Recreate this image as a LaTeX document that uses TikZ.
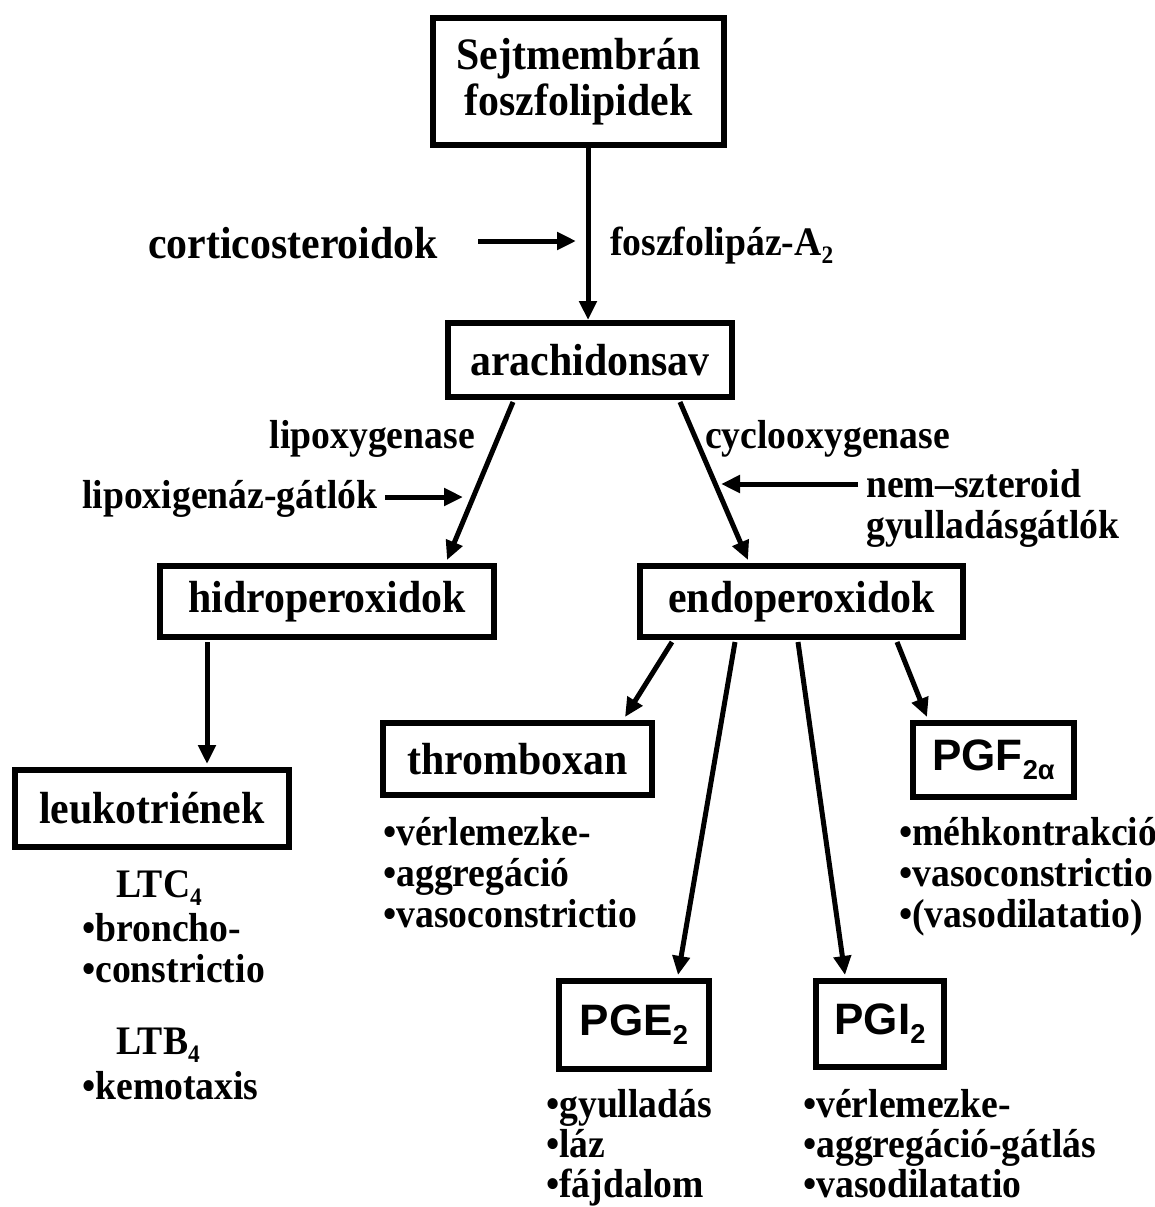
\documentclass[tikz,border=0pt]{standalone}
\usepackage{fontspec}
\setmainfont{Liberation Serif}[FakeStretch=0.93]
\newfontfamily\pgfont{Liberation Sans}
\usetikzlibrary{arrows.meta}

% lowered small index, used for A2, C4, E2 ...
\newcommand\idx[1]{\raisebox{-0.2em}{\scalebox{0.62}{#1}}}

\tikzset{
  box/.style={draw, line width=6pt, inner sep=0pt, font=\bfseries\fontsize{45}{50}\selectfont},
  pgbox/.style={box, font=\pgfont\bfseries\fontsize{44}{48}\selectfont},
  lbl/.style={inner sep=0pt, font=\bfseries\fontsize{40.5}{44}\selectfont},
  big/.style={inner sep=0pt, font=\bfseries\fontsize{45}{50}\selectfont},
  item/.style={inner sep=0pt, anchor=base west, font=\bfseries\fontsize{40.5}{44}\selectfont},
  arr/.style={line width=5pt, -{Triangle[length=19pt,width=17pt]}},
}

\begin{document}
\begin{tikzpicture}[x=1pt, y=-1pt]
\useasboundingbox (0,0) rectangle (1155,1207);

% main boxes
\node[box, minimum width=291pt, minimum height=127pt, align=center] (sejt) at (578.5,81.5)
  {Sejtmembrán\\[-4pt]foszfolipidek};
\node[box, minimum width=284pt, minimum height=74pt] (arach) at (590,360) {arachidonsav};
\node[box, minimum width=334pt, minimum height=71pt] (hidro) at (327,601.5) {hidroperoxidok};
\node[box, minimum width=323pt, minimum height=71pt] (endo) at (801.5,601.5) {endoperoxidok};
\node[box, minimum width=274pt, minimum height=77pt] (leuko) at (152,808.5) {leukotriének};
\node[box, minimum width=269pt, minimum height=72pt] (thromb) at (517.5,759) {thromboxan};
\node[pgbox, minimum width=161pt, minimum height=74pt] (pgf) at (993.5,760) {PGF\idx{2α}};
\node[pgbox, minimum width=150pt, minimum height=88pt] (pge) at (634,1025) {PGE\idx{2}};
\node[pgbox, minimum width=128pt, minimum height=86pt] (pgi) at (880,1024) {PGI\idx{2}};

% pathway arrows
\draw[arr] ([xshift=9.5pt]sejt.south) -- ([xshift=-2pt]arach.north);
\draw[arr] ([xshift=-77pt,yshift=-2pt]arach.south) -- ([xshift=120pt,yshift=3pt]hidro.north);
\draw[arr] ([xshift=90pt,yshift=-2pt]arach.south) -- ([xshift=-53.5pt,yshift=3pt]endo.north);
\draw[arr] ([xshift=-120pt,yshift=-2pt]hidro.south) -- ([xshift=55pt,yshift=3pt]leuko.north);
\draw[arr] ([xshift=-129.5pt,yshift=-2pt]endo.south) -- ([xshift=107.5pt,yshift=3pt]thromb.north);
\draw[arr] ([xshift=-66.5pt,yshift=-2pt]endo.south) -- ([xshift=44pt,yshift=3pt]pge.north);
\draw[arr] ([xshift=-3.5pt,yshift=-2pt]endo.south) -- ([xshift=-35pt,yshift=3pt]pgi.north);
\draw[arr] ([xshift=95.5pt,yshift=-2pt]endo.south) -- ([xshift=-66.5pt,yshift=3pt]pgf.north);

% enzymes and inhibitors
\node[big, anchor=base west] (cort) at (148,258) {corticosteroidok};
\node[lbl, anchor=base west] (pla) at (610,255) {foszfolipáz-A\idx{2}};
\node[lbl, anchor=base east] (lox) at (475,448) {lipoxygenase};
\node[lbl, anchor=base west] (cox) at (705,448) {cyclooxygenase};
\node[lbl, anchor=base west] (loxi) at (82,508) {lipoxigenáz-gátlók};
\node[lbl, anchor=base west] (nsa) at (866,497) {nem–szteroid};
\node[lbl, anchor=base west] (nsb) at (866,538) {gyulladásgátlók};

\coordinate (cortip) at (576,241);
\coordinate (loxtip) at (463,497);
\coordinate (nsatip) at (721,484);
\draw[arr] ([xshift=40pt]cort.east |- cortip) -- (cortip);
\draw[arr] ([xshift=8pt]loxi.east |- loxtip) -- (loxtip);
\draw[arr] ([xshift=-8pt]nsa.west |- nsatip) -- (nsatip);

% effects
\node[item] (lt1) at (116,897) {LTC\idx{4}};
\node[item] (lt2) at (82,941) {•broncho-};
\node[item] (lt3) at (82,982) {•constrictio};
\node[item] (lt4) at (116,1054) {LTB\idx{4}};
\node[item] (lt5) at (82,1099) {•kemotaxis};

\node[item] (tx1) at (383,845) {•vérlemezke-};
\node[item] (tx2) at (383,886) {•aggregáció};
\node[item] (tx3) at (383,927) {•vasoconstrictio};

\node[item] (pf1) at (899,845) {•méhkontrakció};
\node[item] (pf2) at (899,886) {•vasoconstrictio};
\node[item] (pf3) at (899,927) {•(vasodilatatio)};

\node[item] (pe1) at (546,1117) {•gyulladás};
\node[item] (pe2) at (546,1157) {•láz};
\node[item] (pe3) at (546,1197) {•fájdalom};

\node[item] (pi1) at (803,1117) {•vérlemezke-};
\node[item] (pi2) at (803,1157) {•aggregáció-gátlás};
\node[item] (pi3) at (803,1197) {•vasodilatatio};
\end{tikzpicture}
\end{document}
